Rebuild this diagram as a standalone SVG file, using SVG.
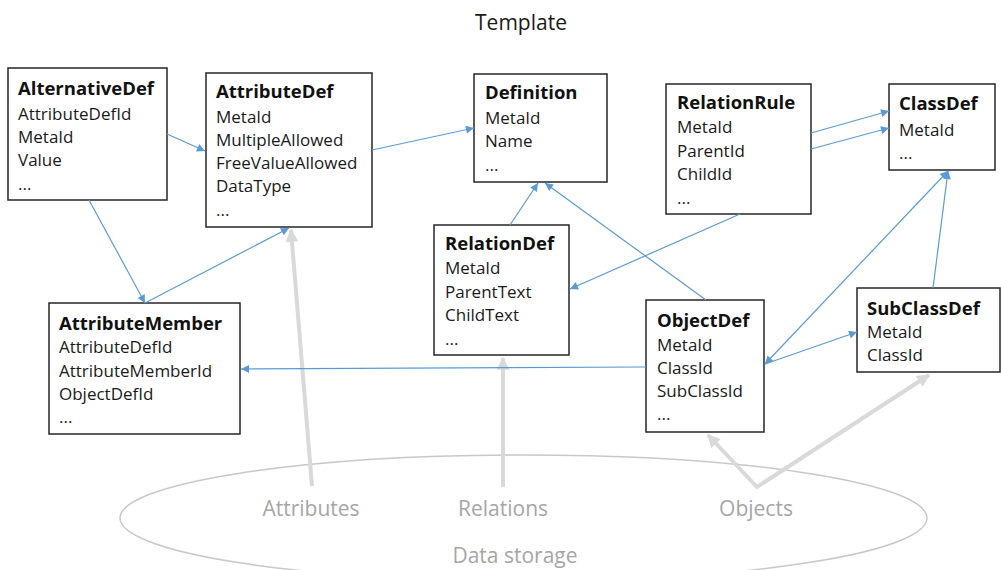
<svg xmlns="http://www.w3.org/2000/svg" width="1001" height="570" viewBox="0 0 1001 570">
<style>
.box{fill:#fff;stroke:#262626;stroke-width:1.5}
.t{font-family:"Open Sans","Liberation Sans",sans-serif;font-size:18.5px;font-weight:bold;fill:#111}
.f{font-family:"Open Sans","Liberation Sans",sans-serif;font-size:17px;fill:#1a1a1a}
.c{fill:none;stroke:#5b9bd5;stroke-width:1.2}
.g{fill:none;stroke:#d9d9d9;stroke-width:4}
.gl{font-family:"Open Sans","Liberation Sans",sans-serif;font-size:21px;fill:#a6a6a6;text-anchor:middle}
</style>
<defs>
<marker id="ab" viewBox="0 0 10 10" refX="10" refY="5" markerWidth="10" markerHeight="8" orient="auto-start-reverse" markerUnits="userSpaceOnUse"><path d="M0,0 L10,5 L0,10 z" fill="#5b9bd5"/></marker>
<marker id="ag" viewBox="0 0 10 10" refX="9" refY="5" markerWidth="14" markerHeight="13" orient="auto-start-reverse" markerUnits="userSpaceOnUse"><path d="M0,0 L10,5 L0,10 z" fill="#d9d9d9"/></marker>
</defs>
<rect width="1001" height="570" fill="#fff"/>
<text x="521" y="30" text-anchor="middle" style="font-family:'Open Sans','Liberation Sans',sans-serif;font-size:21px;fill:#1a1a1a">Template</text>

<g id="storage">
<ellipse cx="523.5" cy="518" rx="403.5" ry="63" fill="none" stroke="#c8c8c8" stroke-width="1.5"/>
<path class="g" d="M312,486 L291,230" marker-end="url(#ag)"/>
<path class="g" d="M503,487 L503,358" marker-end="url(#ag)"/>
<path class="g" d="M708,435 L757,487 L929,375" marker-start="url(#ag)" marker-end="url(#ag)"/>
<text class="gl" x="311" y="516">Attributes</text>
<text class="gl" x="503" y="516">Relations</text>
<text class="gl" x="756" y="516">Objects</text>
<text class="gl" x="515" y="563">Data storage</text>
</g>

<g id="AlternativeDef">
<rect class="box" x="8" y="68" width="159" height="132"/>
<text class="t" x="18" y="95">AlternativeDef</text>
<text class="f" x="18" y="120">AttributeDefId</text>
<text class="f" x="18" y="143">MetaId</text>
<text class="f" x="18" y="166">Value</text>
<text class="f" x="18" y="190">...</text>
</g>

<g id="AttributeDef">
<rect class="box" x="206" y="73" width="166" height="154"/>
<text class="t" x="216" y="98">AttributeDef</text>
<text class="f" x="216" y="123">MetaId</text>
<text class="f" x="216" y="146">MultipleAllowed</text>
<text class="f" x="216" y="169">FreeValueAllowed</text>
<text class="f" x="216" y="192">DataType</text>
<text class="f" x="216" y="216">...</text>
</g>

<g id="Definition">
<rect class="box" x="474" y="74" width="133" height="108"/>
<text class="t" x="485" y="99">Definition</text>
<text class="f" x="485" y="124">MetaId</text>
<text class="f" x="485" y="147">Name</text>
<text class="f" x="485" y="171">...</text>
</g>

<g id="RelationRule">
<rect class="box" x="666" y="84" width="145" height="130"/>
<text class="t" x="677" y="109">RelationRule</text>
<text class="f" x="677" y="133">MetaId</text>
<text class="f" x="677" y="157">ParentId</text>
<text class="f" x="677" y="180">ChildId</text>
<text class="f" x="677" y="204">...</text>
</g>

<g id="ClassDef">
<rect class="box" x="889" y="84" width="106" height="86"/>
<text class="t" x="899" y="110">ClassDef</text>
<text class="f" x="899" y="136">MetaId</text>
<text class="f" x="899" y="159">...</text>
</g>

<g id="RelationDef">
<rect class="box" x="434" y="225" width="135" height="130"/>
<text class="t" x="445" y="250">RelationDef</text>
<text class="f" x="445" y="274">MetaId</text>
<text class="f" x="445" y="298">ParentText</text>
<text class="f" x="445" y="321">ChildText</text>
<text class="f" x="445" y="345">...</text>
</g>

<g id="AttributeMember">
<rect class="box" x="49" y="303" width="191" height="131"/>
<text class="t" x="59" y="330">AttributeMember</text>
<text class="f" x="59" y="353">AttributeDefId</text>
<text class="f" x="59" y="377">AttributeMemberId</text>
<text class="f" x="59" y="400">ObjectDefId</text>
<text class="f" x="59" y="423">...</text>
</g>

<g id="ObjectDef">
<rect class="box" x="646" y="300" width="118" height="132"/>
<text class="t" x="657" y="327">ObjectDef</text>
<text class="f" x="657" y="351">MetaId</text>
<text class="f" x="657" y="374">ClassId</text>
<text class="f" x="657" y="397">SubClassId</text>
<text class="f" x="657" y="420">...</text>
</g>

<g id="SubClassDef">
<rect class="box" x="857" y="288" width="143" height="84"/>
<text class="t" x="867" y="315">SubClassDef</text>
<text class="f" x="867" y="338">MetaId</text>
<text class="f" x="867" y="361">ClassId</text>
</g>

<g id="connectors">
<path class="c" d="M167,134 L205,151" marker-end="url(#ab)"/>
<path class="c" d="M372,150 L474,128" marker-end="url(#ab)"/>
<path class="c" d="M89,200 L145,303" marker-end="url(#ab)"/>
<path class="c" d="M145,303 L289,228" marker-end="url(#ab)"/>
<path class="c" d="M510,225 L538,183" marker-end="url(#ab)"/>
<path class="c" d="M706,300 L545,183" marker-end="url(#ab)"/>
<path class="c" d="M740,214 L570,289" marker-end="url(#ab)"/>
<path class="c" d="M811,133 L889,111" marker-end="url(#ab)"/>
<path class="c" d="M811,149 L889,128" marker-end="url(#ab)"/>
<path class="c" d="M765,364 L948,171" marker-start="url(#ab)" marker-end="url(#ab)"/>
<path class="c" d="M765,364 L857,332" marker-end="url(#ab)"/>
<path class="c" d="M933,288 L948,171" marker-end="url(#ab)"/>
<path class="c" d="M646,367 L241,369" marker-end="url(#ab)"/>
</g>
</svg>
